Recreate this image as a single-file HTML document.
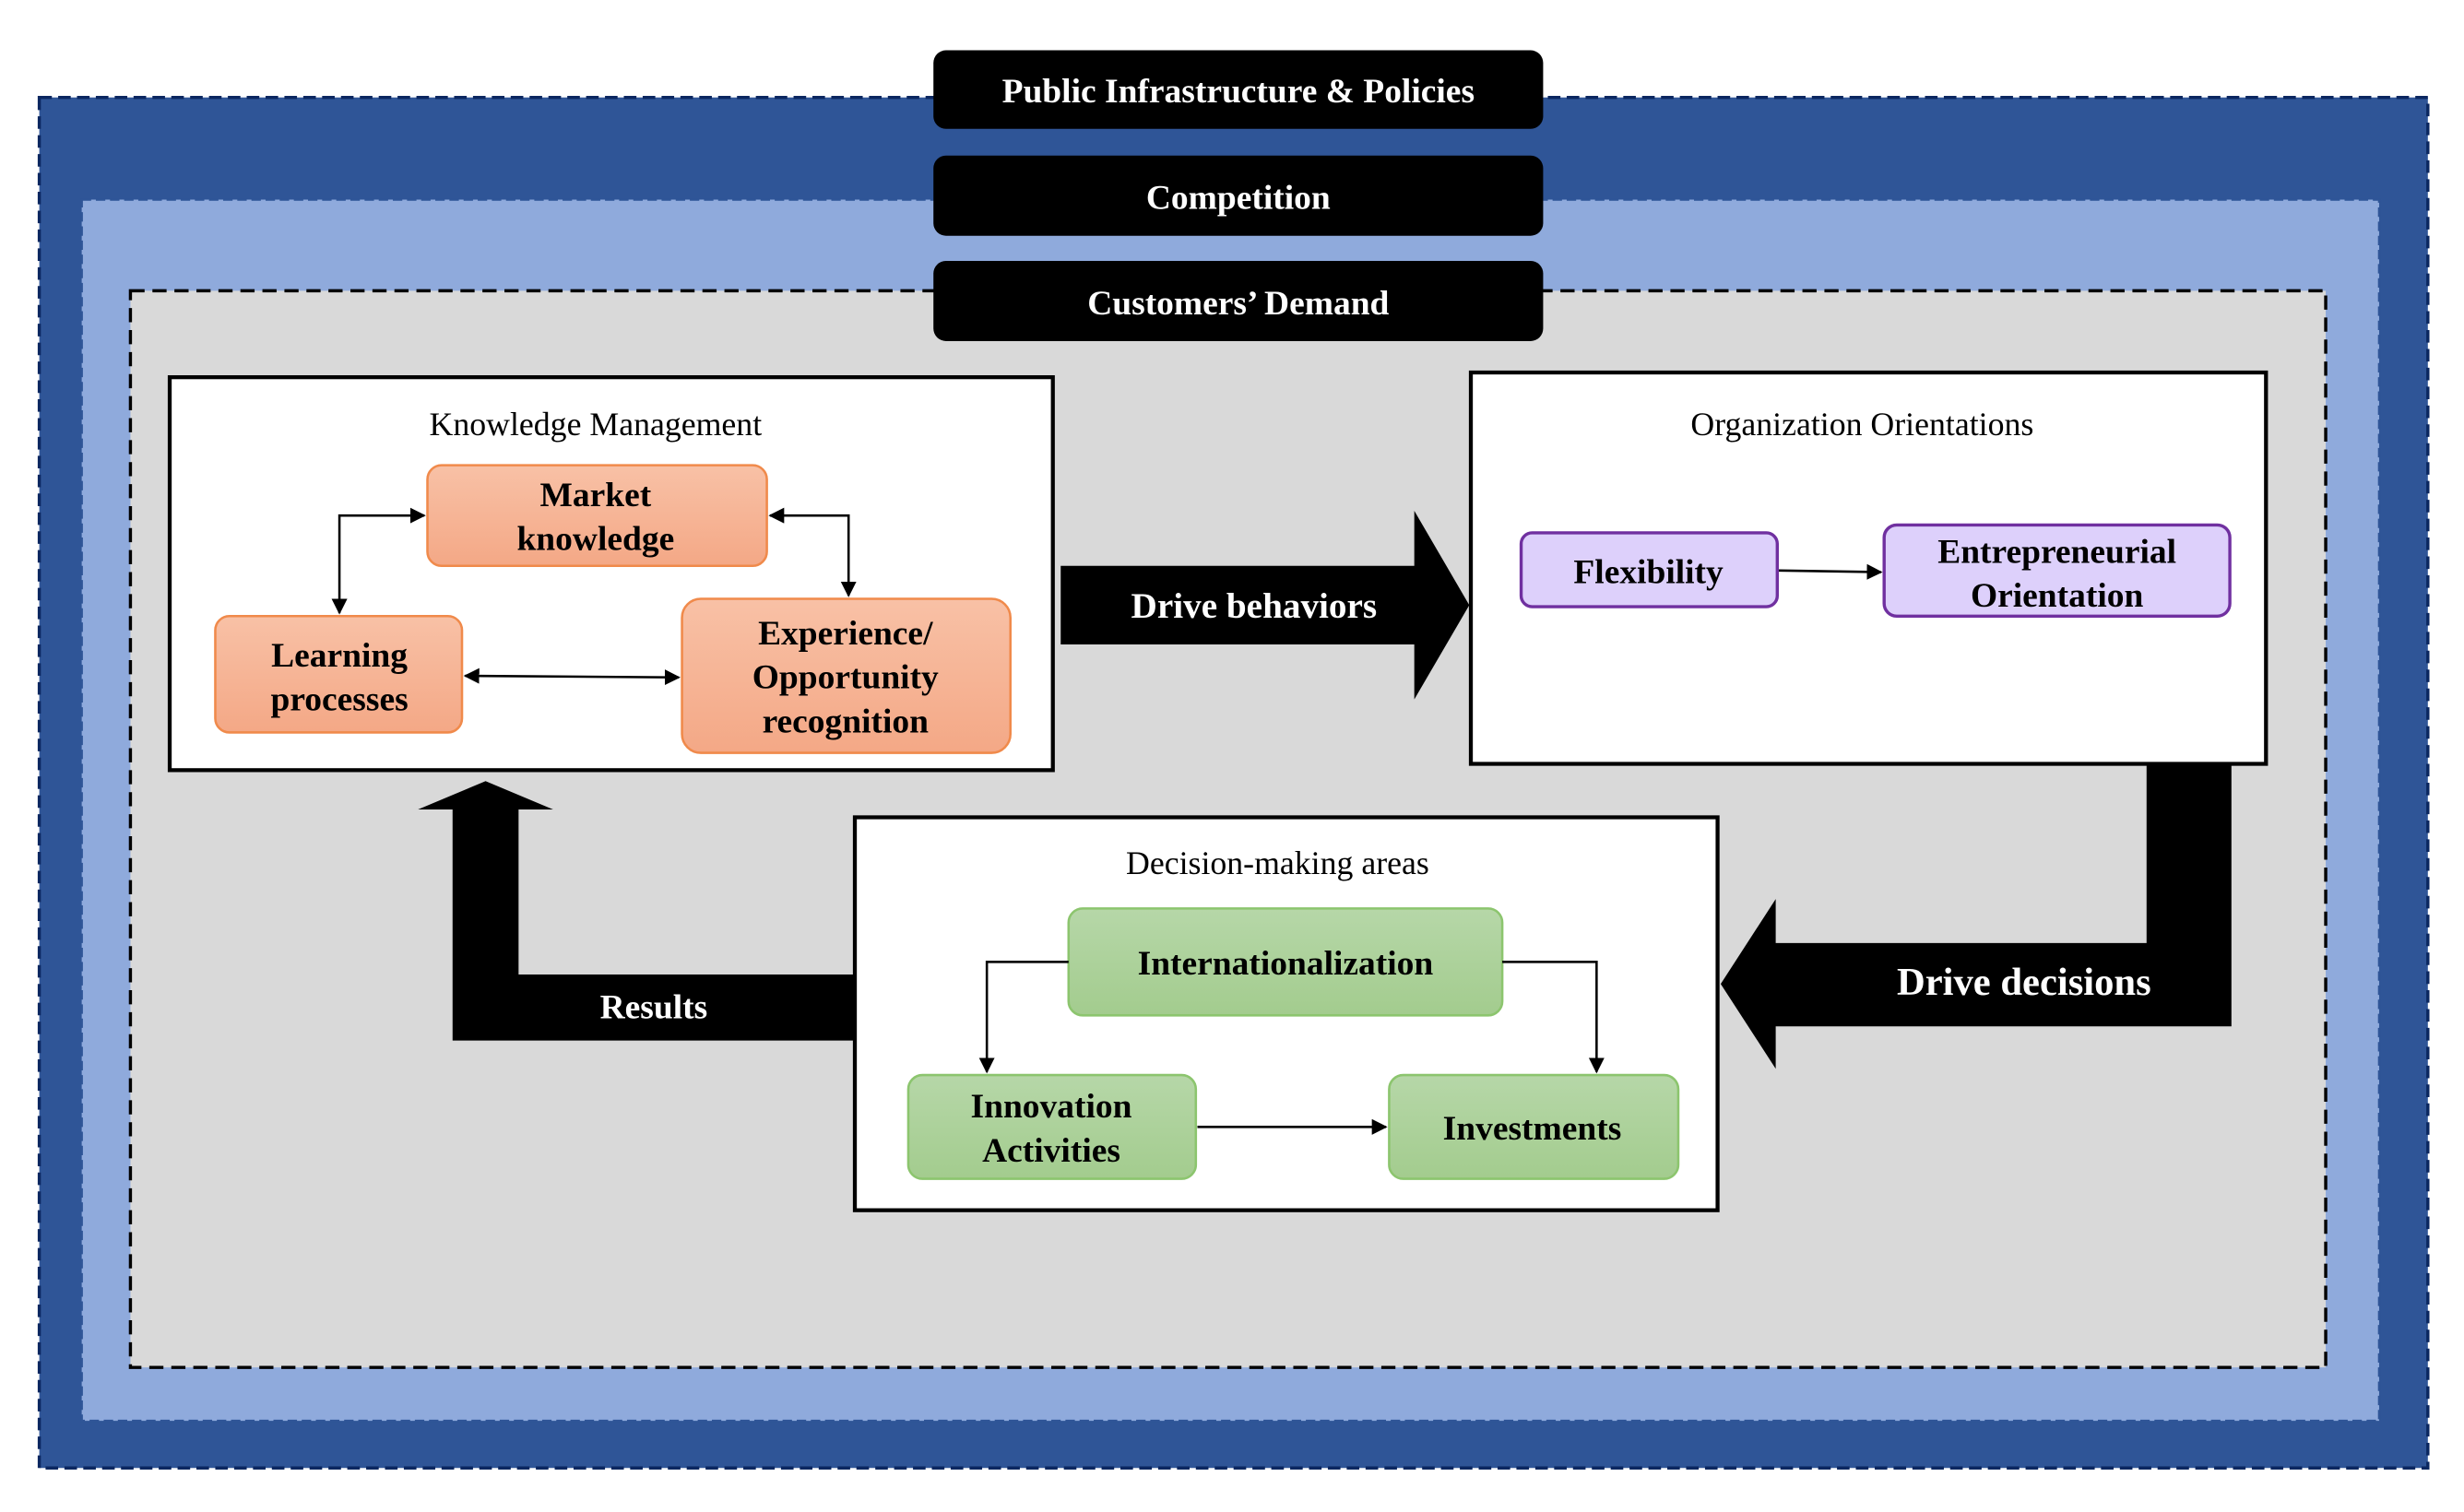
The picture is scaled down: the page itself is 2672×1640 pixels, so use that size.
<!DOCTYPE html>
<html><head><meta charset="utf-8"><style>html,body{margin:0;padding:0;background:#fff}svg{display:block}</style></head>
<body>
<svg width="2672" height="1640" viewBox="0 0 1568 962" preserveAspectRatio="none" xmlns="http://www.w3.org/2000/svg" font-family="'Liberation Serif', serif">
<defs>
<linearGradient id="og" x1="0" y1="0" x2="0" y2="1"><stop offset="0" stop-color="#F8C1A6"/><stop offset="1" stop-color="#F4A886"/></linearGradient>
<linearGradient id="gg" x1="0" y1="0" x2="0" y2="1"><stop offset="0" stop-color="#B6D7A8"/><stop offset="1" stop-color="#A3CC8E"/></linearGradient>
<marker id="ah" markerWidth="10" markerHeight="10" refX="9" refY="5" orient="auto" markerUnits="userSpaceOnUse"><path d="M0,0 L10,5 L0,10 z" fill="#000"/></marker>
<marker id="as" markerWidth="10" markerHeight="10" refX="1" refY="5" orient="auto" markerUnits="userSpaceOnUse"><path d="M10,0 L0,5 L10,10 z" fill="#000"/></marker>
</defs>
<rect x="25" y="62" width="1520" height="872" fill="#2F5597" stroke="#0B2760" stroke-width="2" stroke-dasharray="8,4"/>
<rect x="52" y="127" width="1462" height="777" fill="#8FAADC" stroke="#2F5597" stroke-width="1.5" stroke-dasharray="6,3"/>
<rect x="83" y="185" width="1397" height="685" fill="#D9D9D9" stroke="#000" stroke-width="2" stroke-dasharray="9,5"/>
<g fill="#000">
<rect x="594" y="32" width="388" height="50" rx="8"/>
<rect x="594" y="99" width="388" height="51" rx="8"/>
<rect x="594" y="166" width="388" height="51" rx="8"/>
</g>
<g fill="#fff" font-weight="bold" font-size="22" text-anchor="middle">
<text x="788" y="65">Public Infrastructure &amp; Policies</text>
<text x="788" y="133">Competition</text>
<text x="788" y="200">Customers’ Demand</text>
</g>
<!-- KM box -->
<rect x="108" y="240" width="562" height="250" fill="#fff" stroke="#000" stroke-width="2.5"/>
<text x="379" y="277" font-size="21" text-anchor="middle">Knowledge Management</text>
<rect x="272" y="296" width="216" height="64" rx="9" fill="url(#og)" stroke="#F08A4B" stroke-width="1.5"/>
<rect x="137" y="392" width="157" height="74" rx="9" fill="url(#og)" stroke="#F08A4B" stroke-width="1.5"/>
<rect x="434" y="381" width="209" height="98" rx="12" fill="url(#og)" stroke="#F08A4B" stroke-width="1.5"/>
<g font-size="22" font-weight="bold" text-anchor="middle" fill="#000">
<text x="379" y="322">Market</text><text x="379" y="350">knowledge</text>
<text x="216" y="424">Learning</text><text x="216" y="452">processes</text>
<text x="538" y="410">Experience/</text><text x="538" y="438">Opportunity</text><text x="538" y="466">recognition</text>
</g>
<g stroke="#000" stroke-width="1.5" fill="none">
<path d="M216,390 L216,328 L270,328" marker-start="url(#as)" marker-end="url(#ah)"/>
<path d="M490,328 L540,328 L540,379" marker-start="url(#as)" marker-end="url(#ah)"/>
<path d="M296,430 L432,431" marker-start="url(#as)" marker-end="url(#ah)"/>
</g>
<!-- Drive behaviors -->
<path d="M675,360 L900,360 L900,325 L935,385 L900,445 L900,410 L675,410 z" fill="#000"/>
<text x="798" y="393" fill="#fff" font-size="23" font-weight="bold" text-anchor="middle">Drive behaviors</text>
<!-- Org box -->
<rect x="936" y="237" width="506" height="249" fill="#fff" stroke="#000" stroke-width="2.5"/>
<text x="1185" y="277" font-size="21" text-anchor="middle">Organization Orientations</text>
<rect x="968" y="339" width="163" height="47" rx="7" fill="#DDD0FB" stroke="#7030A0" stroke-width="2"/>
<rect x="1199" y="334" width="220" height="58" rx="8" fill="#DDD0FB" stroke="#7030A0" stroke-width="2"/>
<g font-size="22" font-weight="bold" text-anchor="middle">
<text x="1049" y="371">Flexibility</text>
<text x="1309" y="358">Entrepreneurial</text><text x="1309" y="386">Orientation</text>
</g>
<path d="M1132,363 L1197,364" stroke="#000" stroke-width="1.5" marker-end="url(#ah)"/>
<!-- Drive decisions -->
<path d="M1366,486 L1420,486 L1420,653 L1130,653 L1130,680 L1095,626 L1130,572 L1130,600 L1366,600 z" fill="#000"/>
<text x="1288" y="633" fill="#fff" font-size="25" font-weight="bold" text-anchor="middle">Drive decisions</text>
<!-- Results -->
<path d="M547,620 L330,620 L330,515 L352,515 L309,497 L266,515 L288,515 L288,662 L547,662 z" fill="#000"/>
<text x="416" y="648" fill="#fff" font-size="22" font-weight="bold" text-anchor="middle">Results</text>
<!-- Decision box -->
<rect x="544" y="520" width="549" height="250" fill="#fff" stroke="#000" stroke-width="2.5"/>
<text x="813" y="556" font-size="21" text-anchor="middle">Decision-making areas</text>
<rect x="680" y="578" width="276" height="68" rx="9" fill="url(#gg)" stroke="#8CC56E" stroke-width="1.5"/>
<rect x="578" y="684" width="183" height="66" rx="9" fill="url(#gg)" stroke="#8CC56E" stroke-width="1.5"/>
<rect x="884" y="684" width="184" height="66" rx="9" fill="url(#gg)" stroke="#8CC56E" stroke-width="1.5"/>
<g font-size="22" font-weight="bold" text-anchor="middle">
<text x="818" y="620">Internationalization</text>
<text x="669" y="711">Innovation</text><text x="669" y="739">Activities</text>
<text x="975" y="725">Investments</text>
</g>
<g stroke="#000" stroke-width="1.5" fill="none">
<path d="M680,612 L628,612 L628,682" marker-end="url(#ah)"/>
<path d="M956,612 L1016,612 L1016,682" marker-end="url(#ah)"/>
<path d="M762,717 L882,717" marker-end="url(#ah)"/>
</g>
</svg>
</body></html>
